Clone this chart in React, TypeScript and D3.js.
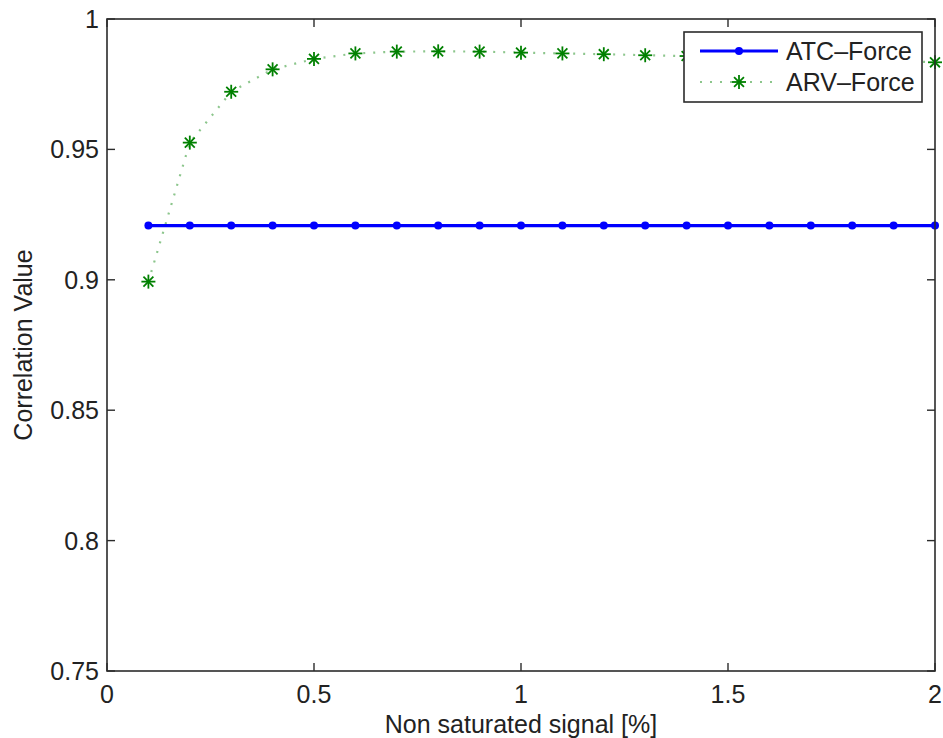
import React from "react";
import * as d3 from "d3";

const xValues = [0.1, 0.2, 0.3, 0.4, 0.5, 0.6, 0.7, 0.8, 0.9, 1.0, 1.1, 1.2, 1.3, 1.4, 1.5, 1.6, 1.7, 1.8, 1.9, 2.0];
const atcForce = [0.9208, 0.9208, 0.9208, 0.9208, 0.9208, 0.9208, 0.9208, 0.9208, 0.9208, 0.9208, 0.9208, 0.9208, 0.9208, 0.9208, 0.9208, 0.9208, 0.9208, 0.9208, 0.9208, 0.9208];
const arvForce = [0.8993, 0.9526, 0.9721, 0.9807, 0.9847, 0.9868, 0.9875, 0.9876, 0.9875, 0.9871, 0.9868, 0.9865, 0.9861, 0.9858, 0.9855, 0.9852, 0.9848, 0.9844, 0.984, 0.9834];
const xTicks = [0, 0.5, 1, 1.5, 2];
const yTicks = [0.75, 0.8, 0.85, 0.9, 0.95, 1];
const xTickLabels = ["0", "0.5", "1", "1.5", "2"];
const yTickLabels = ["0.75", "0.8", "0.85", "0.9", "0.95", "1"];
const seriesNames = ["ATC\u2013Force", "ARV\u2013Force"];

const W = 943, H = 738;
const L = 107, R = 935, T = 19, B = 671;
const FONT = "'Liberation Sans', Arial, Helvetica, sans-serif";
const FS = 25;
const AX = "#2b2b2b";
const BLUE = "#0000ff";
const GREEN = "#008000";

function Star({ cx, cy, r = 7 }: { cx: number; cy: number; r?: number }) {
  const d = r * Math.SQRT1_2;
  return (
    <g stroke={GREEN} strokeWidth={1.8}>
      <line x1={cx - r} y1={cy} x2={cx + r} y2={cy} />
      <line x1={cx} y1={cy - r} x2={cx} y2={cy + r} />
      <line x1={cx - d} y1={cy - d} x2={cx + d} y2={cy + d} />
      <line x1={cx - d} y1={cy + d} x2={cx + d} y2={cy - d} />
    </g>
  );
}

export default function App() {
  const x = d3.scaleLinear().domain([0, 2]).range([L, R]);
  const y = d3.scaleLinear().domain([0.75, 1]).range([B, T]);
  const line = d3.line<[number, number]>().x((d) => x(d[0])).y((d) => y(d[1]));
  const atcPts: [number, number][] = xValues.map((v, i) => [v, atcForce[i]]);
  const arvPts: [number, number][] = xValues.map((v, i) => [v, arvForce[i]]);
  const tickLen = 8;

  const lgX = 684, lgY = 32, lgW = 238, lgH = 70;
  const row1 = 51, row2 = 82;

  return (
    <svg width={W} height={H} style={{ position: "absolute", left: 0, top: 0, background: "#fff" }} fontFamily={FONT}>
      <rect x={0} y={0} width={W} height={H} fill="#fff" />
      {/* ARV series */}
      <path d={line(arvPts) || ""} fill="none" stroke={GREEN} strokeOpacity={0.45} strokeWidth={2.2} strokeDasharray="2,8" />
      {arvPts.map((p, i) => (
        <Star key={"s" + i} cx={x(p[0])} cy={y(p[1])} />
      ))}
      {/* ATC series */}
      <path d={line(atcPts) || ""} fill="none" stroke={BLUE} strokeWidth={3.2} />
      {atcPts.map((p, i) => (
        <circle key={"c" + i} cx={x(p[0])} cy={y(p[1])} r={4} fill={BLUE} />
      ))}
      {/* axes box */}
      <rect x={L} y={T} width={R - L} height={B - T} fill="none" stroke={AX} strokeWidth={1.6} />
      {xTicks.map((t, i) => (
        <g key={"xt" + i}>
          <line x1={x(t)} x2={x(t)} y1={B} y2={B - tickLen} stroke={AX} strokeWidth={1.4} />
          <line x1={x(t)} x2={x(t)} y1={T} y2={T + tickLen} stroke={AX} strokeWidth={1.4} />
          <text x={x(t)} y={703} textAnchor="middle" fontSize={FS} fill="#222">{xTickLabels[i]}</text>
        </g>
      ))}
      {yTicks.map((t, i) => (
        <g key={"yt" + i}>
          <line x1={L} x2={L + tickLen} y1={y(t)} y2={y(t)} stroke={AX} strokeWidth={1.4} />
          <line x1={R} x2={R - tickLen} y1={y(t)} y2={y(t)} stroke={AX} strokeWidth={1.4} />
          <text x={99} y={y(t)} dy="0.36em" textAnchor="end" fontSize={FS} fill="#222">{yTickLabels[i]}</text>
        </g>
      ))}
      <text x={(L + R) / 2} y={733} textAnchor="middle" fontSize={FS} fill="#222">Non saturated signal [%]</text>
      <text transform={`translate(32,${(T + B) / 2}) rotate(-90)`} textAnchor="middle" fontSize={FS} fill="#222">Correlation Value</text>
      {/* legend */}
      <rect x={lgX} y={lgY} width={lgW} height={lgH} fill="#fff" stroke={AX} strokeWidth={1.6} />
      <line x1={700} x2={778} y1={row1} y2={row1} stroke={BLUE} strokeWidth={3.2} />
      <circle cx={739} cy={row1} r={4} fill={BLUE} />
      <text x={786} y={row1} dy="0.36em" fontSize={FS} fill="#222">{seriesNames[0]}</text>
      <line x1={700} x2={778} y1={row2} y2={row2} stroke={GREEN} strokeOpacity={0.45} strokeWidth={2.2} strokeDasharray="2,8" />
      <Star cx={739} cy={row2} />
      <text x={786} y={row2} dy="0.36em" fontSize={FS} fill="#222">{seriesNames[1]}</text>
    </svg>
  );
}
